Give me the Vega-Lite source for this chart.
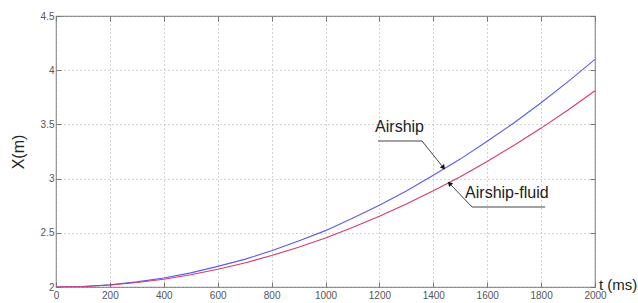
{
  "$schema": "https://vega.github.io/schema/vega-lite/v6.json",
  "width": 539,
  "height": 271,
  "autosize": "none",
  "padding": {"left": 56, "top": 16, "right": 43, "bottom": 16},
  "background": "white",
  "config": {
    "view": {"stroke": "#8a8a8a", "strokeWidth": 1.2},
    "axis": {
      "labelFont": "Liberation Sans",
      "labelFontSize": 10,
      "labelColor": "#555",
      "tickColor": "#777",
      "domain": false,
      "gridColor": "#a8a8a8",
      "gridDash": [1, 3],
      "gridWidth": 1,
      "tickSize": -5
    }
  },
  "datasets": {
    "curves": [
      {"t": 0, "x": 2.0, "series": "Airship"},
      {"t": 100, "x": 2.005, "series": "Airship"},
      {"t": 200, "x": 2.02, "series": "Airship"},
      {"t": 300, "x": 2.047, "series": "Airship"},
      {"t": 400, "x": 2.083, "series": "Airship"},
      {"t": 500, "x": 2.13, "series": "Airship"},
      {"t": 600, "x": 2.19, "series": "Airship"},
      {"t": 700, "x": 2.255, "series": "Airship"},
      {"t": 800, "x": 2.335, "series": "Airship"},
      {"t": 900, "x": 2.425, "series": "Airship"},
      {"t": 1000, "x": 2.52, "series": "Airship"},
      {"t": 1100, "x": 2.635, "series": "Airship"},
      {"t": 1200, "x": 2.755, "series": "Airship"},
      {"t": 1300, "x": 2.885, "series": "Airship"},
      {"t": 1400, "x": 3.03, "series": "Airship"},
      {"t": 1500, "x": 3.18, "series": "Airship"},
      {"t": 1600, "x": 3.345, "series": "Airship"},
      {"t": 1700, "x": 3.515, "series": "Airship"},
      {"t": 1800, "x": 3.7, "series": "Airship"},
      {"t": 1900, "x": 3.895, "series": "Airship"},
      {"t": 2000, "x": 4.1, "series": "Airship"},
      {"t": 0, "x": 2.0, "series": "Airship-fluid"},
      {"t": 100, "x": 2.005, "series": "Airship-fluid"},
      {"t": 200, "x": 2.018, "series": "Airship-fluid"},
      {"t": 300, "x": 2.041, "series": "Airship-fluid"},
      {"t": 400, "x": 2.072, "series": "Airship-fluid"},
      {"t": 500, "x": 2.113, "series": "Airship-fluid"},
      {"t": 600, "x": 2.163, "series": "Airship-fluid"},
      {"t": 700, "x": 2.222, "series": "Airship-fluid"},
      {"t": 800, "x": 2.29, "series": "Airship-fluid"},
      {"t": 900, "x": 2.367, "series": "Airship-fluid"},
      {"t": 1000, "x": 2.452, "series": "Airship-fluid"},
      {"t": 1100, "x": 2.548, "series": "Airship-fluid"},
      {"t": 1200, "x": 2.652, "series": "Airship-fluid"},
      {"t": 1300, "x": 2.765, "series": "Airship-fluid"},
      {"t": 1400, "x": 2.887, "series": "Airship-fluid"},
      {"t": 1500, "x": 3.018, "series": "Airship-fluid"},
      {"t": 1600, "x": 3.158, "series": "Airship-fluid"},
      {"t": 1700, "x": 3.308, "series": "Airship-fluid"},
      {"t": 1800, "x": 3.466, "series": "Airship-fluid"},
      {"t": 1900, "x": 3.633, "series": "Airship-fluid"},
      {"t": 2000, "x": 3.81, "series": "Airship-fluid"}
    ],
    "labels": [
      {"t": 1184, "x": 3.476, "label": "Airship"},
      {"t": 1518, "x": 2.867, "label": "Airship-fluid"}
    ],
    "leaders": [
      {"t": 1195, "x": 3.347, "t2": 1358, "x2": 3.347},
      {"t": 1358, "x": 3.347, "t2": 1432, "x2": 3.118},
      {"t": 1466, "x": 2.94, "t2": 1544, "x2": 2.738},
      {"t": 1544, "x": 2.738, "t2": 1815, "x2": 2.738}
    ],
    "arrows": [
      {"t": 1436, "x": 3.107, "angle": 141},
      {"t": 1462, "x": 2.95, "angle": -44}
    ]
  },
  "layer": [
    {
      "data": {"name": "curves"},
      "mark": {"type": "line", "strokeWidth": 1.1, "clip": true},
      "encoding": {
        "x": {
          "field": "t", "type": "quantitative",
          "scale": {"domain": [0, 2000], "nice": false},
          "axis": {"values": [0, 200, 400, 600, 800, 1000, 1200, 1400, 1600, 1800, 2000], "format": "d", "title": null, "grid": true, "labelPadding": 8, "labelFlush": false}
        },
        "y": {
          "field": "x", "type": "quantitative",
          "scale": {"domain": [2, 4.5], "nice": false, "zero": false},
          "axis": {"values": [2, 2.5, 3, 3.5, 4, 4.5], "format": "~g", "grid": true, "labelPadding": 7, "labelFlush": false, "title": "X(m)", "titleFont": "Liberation Sans", "titleFontSize": 16, "titleFontWeight": "normal", "titleColor": "#222", "titlePadding": 14}
        },
        "color": {
          "field": "series", "type": "nominal",
          "scale": {"domain": ["Airship", "Airship-fluid"], "range": ["#5b5bea", "#d63a6e"]},
          "legend": null
        }
      }
    },
    {
      "data": {"name": "curves"},
      "mark": {"type": "line", "opacity": 0},
      "encoding": {
        "x": {"field": "t", "type": "quantitative", "axis": {"orient": "top", "labels": false, "grid": false, "title": null, "values": [0, 200, 400, 600, 800, 1000, 1200, 1400, 1600, 1800, 2000]}},
        "y": {"field": "x", "type": "quantitative", "axis": {"orient": "right", "labels": false, "grid": false, "title": null, "values": [2, 2.5, 3, 3.5, 4, 4.5]}},
        "detail": {"field": "series"}
      }
    },
    {
      "data": {"name": "leaders"},
      "mark": {"type": "rule", "color": "#444", "strokeWidth": 1},
      "encoding": {
        "x": {"field": "t", "type": "quantitative", "axis": null},
        "y": {"field": "x", "type": "quantitative", "axis": null},
        "x2": {"field": "t2"},
        "y2": {"field": "x2"}
      }
    },
    {
      "data": {"name": "arrows"},
      "mark": {"type": "point", "shape": "triangle", "filled": true, "color": "#111", "size": 30, "opacity": 1},
      "encoding": {
        "x": {"field": "t", "type": "quantitative", "axis": null},
        "y": {"field": "x", "type": "quantitative", "axis": null},
        "angle": {"field": "angle", "type": "quantitative", "scale": null}
      }
    },
    {
      "data": {"name": "labels"},
      "mark": {"type": "text", "align": "left", "baseline": "middle", "font": "Liberation Sans", "fontSize": 16, "color": "#222"},
      "encoding": {
        "x": {"field": "t", "type": "quantitative", "axis": null},
        "y": {"field": "x", "type": "quantitative", "axis": null},
        "text": {"field": "label"}
      }
    },
    {
      "data": {"values": [{"t": 2000, "x": 2, "label": "t (ms)"}]},
      "mark": {"type": "text", "align": "left", "baseline": "alphabetic", "dx": 4, "dy": 3, "font": "Liberation Sans", "fontSize": 15, "color": "#222", "clip": false},
      "encoding": {
        "x": {"field": "t", "type": "quantitative", "axis": null},
        "y": {"field": "x", "type": "quantitative", "axis": null},
        "text": {"field": "label"}
      }
    }
  ],
  "resolve": {"axis": {"x": "independent", "y": "independent"}}
}
